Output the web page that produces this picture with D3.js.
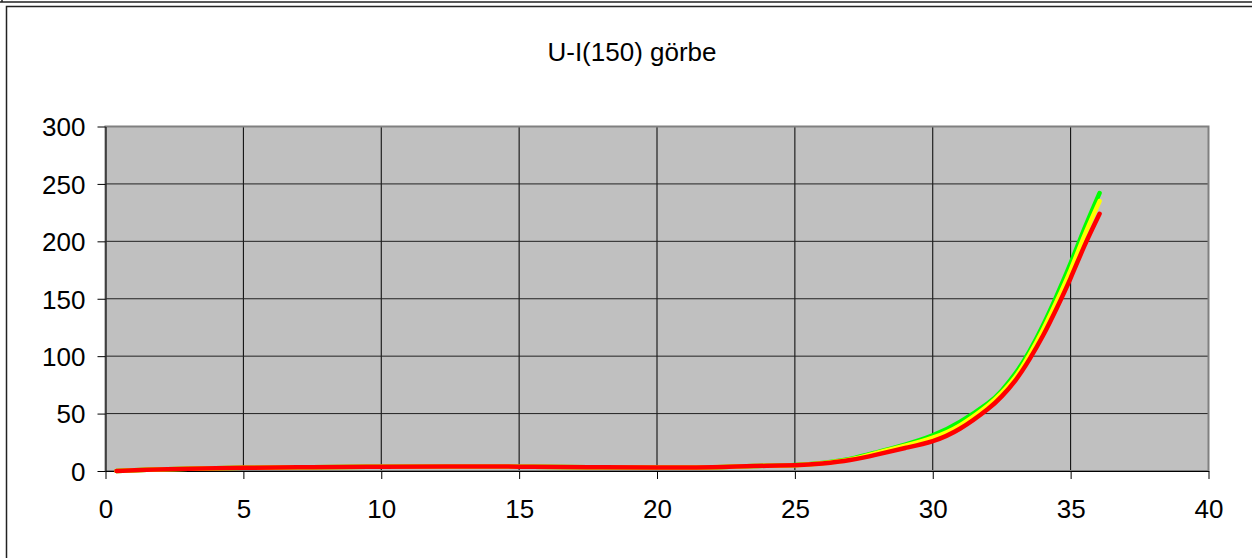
<!DOCTYPE html>
<html>
<head>
<meta charset="utf-8">
<script src="https://cdn.jsdelivr.net/npm/d3@7"></script>
<style>
  body { margin: 0; background: #fff; }
  svg { display: block; font-family: Arial, "Liberation Sans", sans-serif; }
</style>
</head>
<body>
<div id="chart"></div>
<script>
const title = 'U-I(150) görbe';
const xTicks = [0, 5, 10, 15, 20, 25, 30, 35, 40];
const yTicks = [0, 50, 100, 150, 200, 250, 300];

// U values (x) shared by the three measured series
const uValues = [0.4, 1.5, 3, 5, 7.5, 10, 12.5, 15, 17.5, 20, 22, 23.5, 25, 26, 27, 28, 29, 30, 31, 32, 32.5, 33, 33.5, 34, 34.5, 35, 35.5, 36.05];
const greenValues = [0, 1, 2, 2.8, 3.3, 3.8, 4, 3.8, 3.3, 3, 3.2, 4.3, 5.2, 7, 10.5, 16.5, 23, 31, 43, 59, 70, 85, 104, 127, 153, 181, 211, 242];
const yellowValues = [0, 1, 2, 2.8, 3.3, 3.8, 4, 3.8, 3.3, 3, 3.2, 4.3, 5.1, 6.8, 10, 16, 22, 29, 40, 57, 68, 82, 101, 123, 148, 175, 205, 235];
const redValues = [0, 1, 2, 2.8, 3.3, 3.8, 4, 3.8, 3.3, 3, 3.2, 4.3, 5, 6.5, 9.5, 14.5, 20, 26, 37, 54, 65, 79, 97, 118, 142, 168, 196, 224];

const series = [
  { name: 'green', color: '#00ff00', values: greenValues },
  { name: 'yellow', color: '#ffff00', values: yellowValues },
  { name: 'red', color: '#ff0000', values: redValues }
];

const width = 1252, height = 558;
const plotLeft = 105.5, plotRight = 1208.5, plotTop = 126.5, plotBottom = 471;
const fontSize = 26;

const svg = d3.select('#chart')
  .append('svg')
  .attr('width', width)
  .attr('height', height);

// outer frame
svg.append('line').attr('x1', 0).attr('x2', width).attr('y1', 2).attr('y2', 2)
  .attr('stroke', '#222').attr('stroke-width', 1.5);
svg.append('line').attr('x1', 2).attr('x2', 2).attr('y1', 0).attr('y2', 2)
  .attr('stroke', '#222').attr('stroke-width', 1.5);
svg.append('path').attr('d', `M${width},6.5H6.5V${height}`)
  .attr('fill', 'none').attr('stroke', '#222').attr('stroke-width', 1.5);

const x = d3.scaleLinear().domain([0, 40]).range([plotLeft, plotRight]);
const y = d3.scaleLinear().domain([0, 300]).range([plotBottom, plotTop]);

// plot area
svg.append('rect')
  .attr('x', plotLeft).attr('y', plotTop)
  .attr('width', plotRight - plotLeft).attr('height', plotBottom - plotTop)
  .attr('fill', '#c0c0c0');

// grid
svg.append('g').selectAll('line')
  .data(xTicks.slice(1, -1))
  .join('line')
  .attr('x1', d => x(d)).attr('x2', d => x(d))
  .attr('y1', plotTop).attr('y2', plotBottom)
  .attr('stroke', '#000').attr('stroke-width', 1);

svg.append('g').selectAll('line')
  .data(yTicks.slice(1, -1))
  .join('line')
  .attr('x1', plotLeft).attr('x2', plotRight)
  .attr('y1', d => y(d)).attr('y2', d => y(d))
  .attr('stroke', '#222').attr('stroke-width', 1);

svg.append('rect')
  .attr('x', plotLeft).attr('y', plotTop)
  .attr('width', plotRight - plotLeft).attr('height', plotBottom - plotTop)
  .attr('fill', 'none').attr('stroke', '#808080').attr('stroke-width', 2);

// axes
const xAxis = svg.append('g')
  .attr('transform', `translate(0,${plotBottom})`)
  .call(d3.axisBottom(x).tickValues(xTicks).tickSize(8).tickPadding(9).tickSizeOuter(0));
const yAxis = svg.append('g')
  .attr('transform', `translate(${plotLeft},0)`)
  .call(d3.axisLeft(y).tickValues(yTicks).tickSize(8).tickPadding(12).tickSizeOuter(0));

[xAxis, yAxis].forEach(a => {
  a.select('.domain').attr('stroke', '#000').attr('stroke-width', 1);
  a.selectAll('.tick line').attr('stroke', '#000');
  a.selectAll('.tick text')
    .attr('fill', '#000')
    .style('font-size', fontSize + 'px')
    .style('font-family', 'Arial, "Liberation Sans", sans-serif');
});
xAxis.selectAll('.tick text').attr('dy', '1.15em');
yAxis.selectAll('.tick text').attr('dy', '0.36em');

// series
const line = d3.line()
  .x((d, i) => x(uValues[i]))
  .y(d => y(d))
  .curve(d3.curveNatural);

svg.append('g').selectAll('path')
  .data(series)
  .join('path')
  .attr('d', d => line(d.values))
  .attr('fill', 'none')
  .attr('stroke', d => d.color)
  .attr('stroke-width', 4.5)
  .attr('stroke-linecap', 'round')
  .attr('stroke-linejoin', 'round');

// title
svg.append('text')
  .attr('x', 632)
  .attr('y', 61)
  .attr('text-anchor', 'middle')
  .style('font-size', fontSize + 'px')
  .attr('fill', '#000')
  .text(title);
</script>
</body>
</html>
